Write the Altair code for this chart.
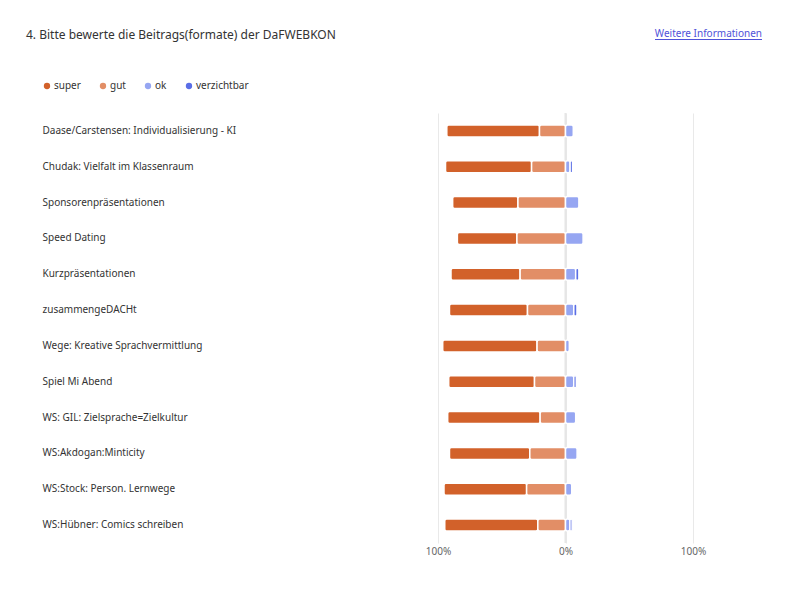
import altair as alt
import pandas as pd

# ---- data (percent of responses) ----
formats = [
    "Daase/Carstensen: Individualisierung - KI",
    "Chudak: Vielfalt im Klassenraum",
    "Sponsorenpräsentationen",
    "Speed Dating",
    "Kurzpräsentationen",
    "zusammengeDACHt",
    "Wege: Kreative Sprachvermittlung",
    "Spiel Mi Abend",
    "WS: GIL: Zielsprache=Zielkultur",
    "WS:Akdogan:Minticity",
    "WS:Stock: Person. Lernwege",
    "WS:Hübner: Comics schreiben",
]
super_ = [72.7, 67.5, 51.2, 46.7, 54.2, 61.2, 74.0, 67.3, 72.5, 63.0, 64.8, 73.0]
gut = [20.4, 26.6, 37.3, 38.1, 35.6, 29.8, 22.3, 24.3, 19.9, 28.0, 30.5, 21.7]
ok = [6.1, 3.6, 10.5, 13.8, 8.0, 6.5, 3.0, 6.5, 8.0, 9.1, 4.9, 3.5]
verzichtbar = [0.0, 2.0, 0.0, 0.0, 2.5, 2.5, 0.0, 2.0, 0.0, 0.0, 0.0, 1.7]

categories = ["super", "gut", "ok", "verzichtbar"]
colors = ["#d2612a", "#e28e66", "#96a6f2", "#5a6ee6"]
axis_ticks = [-100, 0, 100]

title_text = "4. Bitte bewerte die Beitrags(formate) der DaFWEBKON"
link_text = "Weitere Informationen"

# ---- build diverging segments ----
rows = []
for i, f in enumerate(formats):
    s, g, o, v = super_[i], gut[i], ok[i], verzichtbar[i]
    segs = [
        ("super", -(s + g), -g, s),
        ("gut", -g, 0.0, g),
        ("ok", 0.0, o, o),
        ("verzichtbar", o, o + v, v),
    ]
    for cat, a, b, val in segs:
        if val > 0:
            rows.append({"format": f, "kategorie": cat, "start": a, "end": b,
                         "wert": val, "order": categories.index(cat)})
df = pd.DataFrame(rows)

FONT = "Noto Sans"

y_enc = alt.Y(
    "format:N", sort=formats, title=None,
    scale=alt.Scale(paddingInner=0, paddingOuter=0),
    axis=alt.Axis(labelAlign="left", labelPadding=396, labelLimit=400,
                  ticks=False, tickSize=0, domain=False, grid=False,
                  labelFont=FONT, labelFontSize=10, labelColor="#333333"),
)
x_scale = alt.Scale(domain=[-100, 100], nice=False, zero=False)

bars = alt.Chart(df).mark_bar(size=12, stroke="white", strokeWidth=1.5,
                              cornerRadius=2).encode(
    x=alt.X("start:Q", scale=x_scale, title=None,
            axis=alt.Axis(values=axis_ticks, labelExpr="abs(datum.value) + '%'",
                          grid=True, gridColor="#e9e9e9", domain=False,
                          ticks=False, tickSize=0, labelPadding=3,
                          labelFlush=False, labelBound=False,
                          labelFont=FONT, labelFontSize=10,
                          labelColor="#666666")),
    x2="end:Q",
    y=y_enc,
    color=alt.Color("kategorie:N", sort=categories,
                    scale=alt.Scale(domain=categories, range=colors),
                    legend=alt.Legend(orient="none", direction="horizontal",
                                      legendX=-396, legendY=-32, title=None,
                                      symbolType="circle", symbolSize=40,
                                      symbolStrokeWidth=0, padding=0,
                                      columnPadding=17, labelOffset=2,
                                      labelFont=FONT, labelFontSize=10,
                                      labelColor="#333333")),
    order="order:Q",
    tooltip=["format:N", "kategorie:N", "wert:Q"],
)

zero = alt.Chart(pd.DataFrame({"x": [0]})).mark_rule(
    color="#e6e6e6", strokeWidth=2).encode(x=alt.X("x:Q", scale=x_scale))

link = alt.Chart(pd.DataFrame({"t": [link_text]})).mark_text(
    align="right", baseline="middle", font=FONT, fontSize=10,
    color="#4f52d9").encode(x=alt.value(324), y=alt.value(-79), text="t:N")
underline = alt.Chart(pd.DataFrame({"t": [link_text]})).mark_rule(
    color="#4f52d9", strokeWidth=1).encode(
    x=alt.value(217), x2=alt.value(324), y=alt.value(-73.5))

chart = alt.layer(zero, bars, link, underline).properties(
    width=255, height=430,
    padding={"left": 430, "top": 105, "right": 77, "bottom": 33},
    autosize=alt.AutoSizeParams(type="none"),
    title=alt.TitleParams(title_text, anchor="start", frame="group",
                          dx=-412, dy=13, offset=0, font=FONT, fontSize=12,
                          fontWeight="normal", color="#333333"),
).configure(background="white").configure_view(stroke=None)

chart.save("out.html", embed_options={"renderer": "svg", "actions": False})
